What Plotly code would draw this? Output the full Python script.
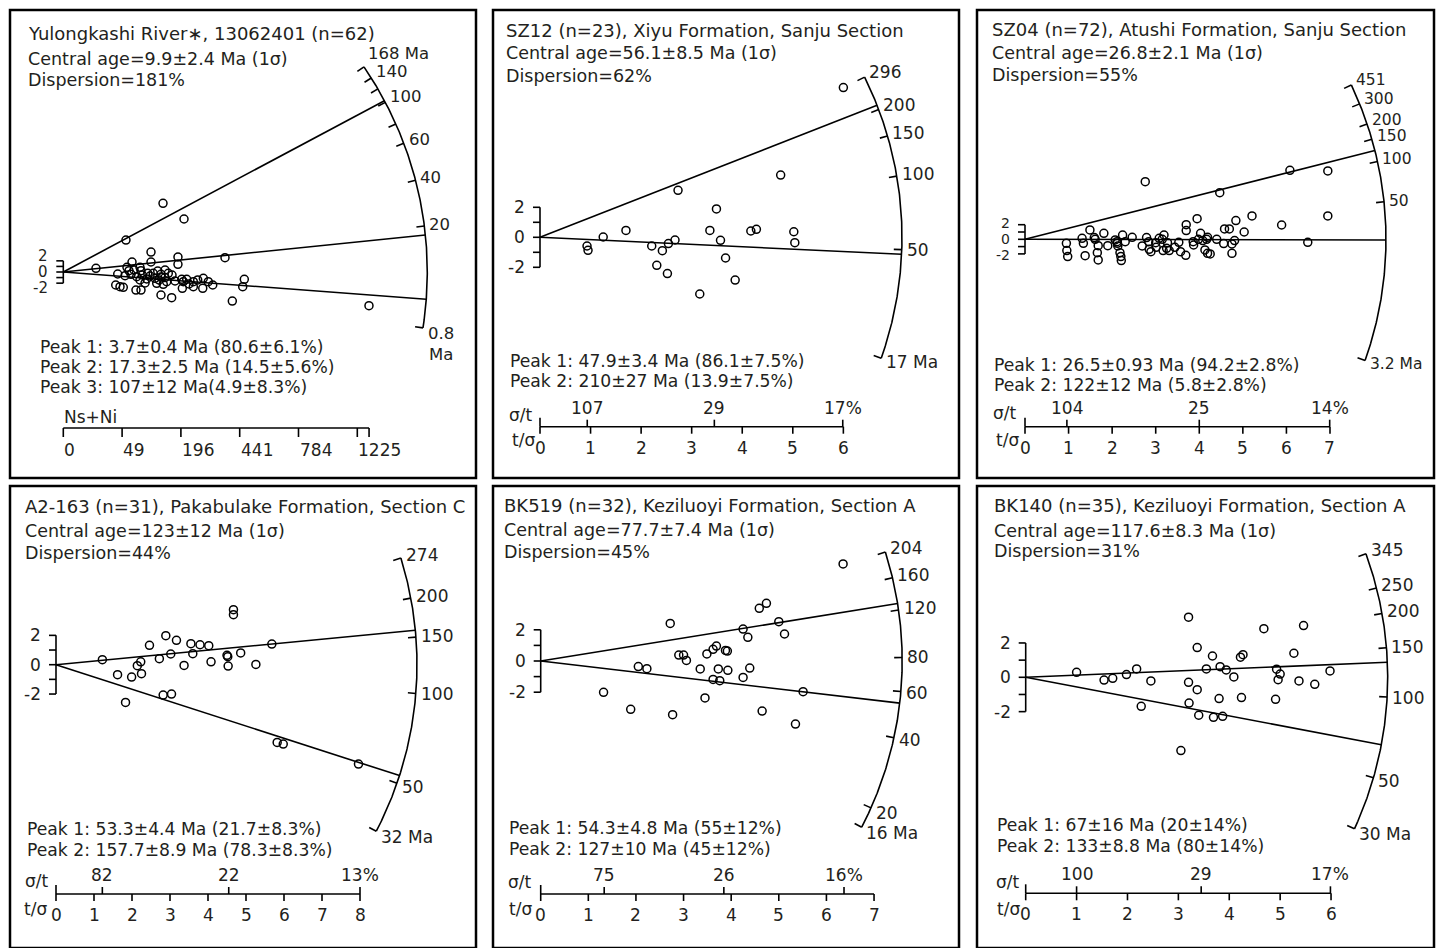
import numpy as np
import plotly.graph_objects as go

W, H = 1436, 948
TXT = "#231f20"
FAM = "DejaVu Sans"
FS = 17

# ------------------------------------------------------------------ data
# Panel 1 (x = sqrt(Ns+Ni), y = standardised estimate)
p1_title = "Yulongkashi River∗, 13062401 (n=62)"
p1_central = "Central age=9.9±2.4 Ma (1σ)"
p1_disp = "Dispersion=181%"
p1_peak_text = ["Peak 1: 3.7±0.4 Ma (80.6±6.1%)", "Peak 2: 17.3±2.5 Ma (14.5±5.6%)",
                "Peak 3: 107±12 Ma(4.9±8.3%)"]
p1_x = [3.89, 7.46, 11.87, 14.37, 10.44, 13.65, 13.65, 19.25, 8.18, 10.44, 7.58, 7.82, 9.13, 9.25,
        6.48, 7.35, 8.06, 8.74, 9.40, 10.05, 10.71, 11.24, 12.11, 11.63, 9.93, 9.13, 10.92, 11.63,
        12.11, 12.50, 11.12, 11.90, 12.31, 14.10, 14.69, 14.29, 14.17, 6.24, 6.75, 7.14, 8.65, 9.25,
        11.63, 12.90, 15.48, 15.48, 16.00, 16.67, 16.60, 17.26, 17.79, 21.55, 21.36, 20.12, 36.39,
        12.94, 11.39, 10.32, 14.96, 8.42, 13.30, 9.73]
p1_y = [0.66, 5.73, 12.31, 9.50, 3.58, 2.69, 1.38, 2.56, 1.79, 1.79, 0.84, 0.23, 0.84, 0.23,
        -0.36, -0.66, -0.41, -0.84, -0.54, -0.23, -0.23, 0.18, 0.36, -0.41, -1.25, -1.43, -1.13, -0.90,
        -0.99, -0.23, -2.03, -2.20, -1.74, -1.31, -1.31, -1.74, -2.92, -2.33, -2.63, -2.74, -3.23, -3.23,
        -4.12, -4.61, -1.74, -2.63, -1.43, -1.13, -2.92, -1.74, -2.33, -1.31, -2.63, -5.20, -6.04,
        -0.54, -1.43, -0.72, -2.15, 0.36, -1.61, -1.97]
p1_arc_labels = ["168 Ma", "140", "", "100", "", "60", "40", "20", "0.8<br>Ma"]
p1_arc_z = [1.027, 0.948, 0.876, 0.793, 0.670, 0.569, 0.392, 0.192, -0.234]
p1_peak_z = [-0.113, 0.154, 0.803]
p1_count_ticks = [0, 49, 196, 441, 784, 1225]
p1_count_max = 1325

# Panel 2
p2_title = "SZ12 (n=23), Xiyu Formation, Sanju Section"
p2_central = "Central age=56.1±8.5 Ma (1σ)"
p2_disp = "Dispersion=62%"
p2_peak_text = ["Peak 1: 47.9±3.4 Ma (86.1±7.5%)", "Peak 2: 210±27 Ma (13.9±7.5%)"]
p2_central_age = 56.1
p2_peak_ages = [47.9, 210]
p2_arc_ages = [296, 200, 150, 100, 50, 17]
p2_arc_labels = ["296", "200", "150", "100", "50", "17 Ma"]
p2_sig = [107, 29, 16.7]
p2_sig_labels = ["107", "29", "17%"]
p2_tmax = 6
p2_x = [6.00, 4.76, 2.73, 3.49, 1.70, 1.25, 0.93, 0.95, 3.36, 3.57, 4.17, 4.28, 5.02, 5.04, 2.67,
        2.54, 2.21, 2.42, 2.31, 2.52, 3.67, 3.86, 3.16]
p2_y = [9.98, 4.15, 3.13, 1.89, 0.46, 0.02, -0.58, -0.87, 0.46, -0.20, 0.42, 0.53, 0.37, -0.36, -0.18,
        -0.42, -0.58, -0.89, -1.87, -2.42, -1.38, -2.85, -3.78]

# Panel 3
p3_title = "SZ04 (n=72), Atushi Formation, Sanju Section"
p3_central = "Central age=26.8±2.1 Ma (1σ)"
p3_disp = "Dispersion=55%"
p3_peak_text = ["Peak 1: 26.5±0.93 Ma (94.2±2.8%)", "Peak 2: 122±12 Ma (5.8±2.8%)"]
p3_central_age = 26.8
p3_peak_ages = [26.5, 122]
p3_arc_ages = [451, 300, 200, 150, 100, 50, 3.2]
p3_arc_labels = ["451", "300", "200", "150", "100", "50", "3.2 Ma"]
p3_sig = [104, 25, 14.3]
p3_sig_labels = ["104", "25", "14%"]
p3_tmax = 7
p3_x = [2.76, 4.47, 6.08, 6.95, 6.95, 5.89, 6.49, 5.21, 4.84, 5.03, 4.58, 4.69, 4.81, 4.75, 4.75,
        4.56, 4.40, 4.19, 3.95, 4.03, 3.98, 4.08, 4.13, 4.19, 4.25, 3.87, 3.70, 3.70, 3.53, 3.57,
        3.69, 3.44, 3.31, 3.27, 3.19, 3.15, 3.08, 3.17, 3.01, 2.89, 2.85, 2.79, 2.84, 2.69, 2.46,
        2.30, 2.24, 2.11, 2.13, 2.18, 2.20, 2.21, 2.07, 1.90, 1.81, 1.68, 1.66, 1.68, 1.59, 1.49,
        1.34, 1.31, 1.38, 0.95, 0.96, 0.98, 1.61, 2.12, 3.00, 3.86, 4.17, 3.25]
p3_y = [7.90, 6.39, 9.45, 9.36, 3.20, 1.96, -0.41, 3.20, 2.56, 1.00, 1.42, 1.42, -0.18, -0.64, -1.92,
        -0.59, 0.00, 0.27, 2.83, 0.82, 0.00, -0.18, -1.46, -1.92, -2.01, -0.78, 2.01, 1.19, -0.41, -1.69,
        -2.19, -1.10, -1.55, -0.46, 0.59, 0.00, 0.14, -1.55, -1.10, -1.69, -1.37, 0.23, -0.32, -0.91, 0.27,
        -0.32, 0.59, -0.32, -0.91, -1.83, -2.37, -2.92, -0.09, -0.87, 0.82, -0.87, -1.83, -2.83, 0.23, 1.28,
        -0.55, 0.14, -2.24, -0.55, -1.55, -2.37, 0.00, -0.55, -0.46, -0.32, 0.00, -1.23]

# Panel 4
p4_title = "A2-163 (n=31), Pakabulake Formation, Section C"
p4_central = "Central age=123±12 Ma (1σ)"
p4_disp = "Dispersion=44%"
p4_peak_text = ["Peak 1: 53.3±4.4 Ma (21.7±8.3%)", "Peak 2: 157.7±8.9 Ma (78.3±8.3%)"]
p4_central_age = 123
p4_peak_ages = [53.3, 157.7]
p4_arc_ages = [274, 200, 150, 100, 50, 32]
p4_arc_labels = ["274", "200", "150", "100", "50", "32 Ma"]
p4_sig = [82, 22, 12.5]
p4_sig_labels = ["82", "22", "13%"]
p4_tmax = 8
p4_x = [1.22, 1.62, 1.99, 1.83, 2.14, 2.23, 2.25, 2.46, 2.72, 2.89, 3.02, 3.17, 2.82, 3.04, 3.37,
        3.55, 3.60, 3.79, 4.02, 4.08, 4.50, 4.52, 4.53, 4.67, 4.67, 4.86, 5.26, 5.68, 5.82, 5.98, 7.96]
p4_y = [0.34, -0.68, -0.84, -2.57, -0.07, 0.20, -0.61, 1.32, 0.41, 1.98, 0.73, 1.66, -2.07, -2.00, -0.05,
        1.43, 0.75, 1.36, 1.30, 0.20, 0.64, 0.55, -0.09, 3.75, 3.41, 0.80, 0.02, 1.41, -5.30, -5.41, -6.77]

# Panel 5
p5_title = "BK519 (n=32), Keziluoyi Formation, Section A"
p5_central = "Central age=77.7±7.4 Ma (1σ)"
p5_disp = "Dispersion=45%"
p5_peak_text = ["Peak 1: 54.3±4.8 Ma (55±12%)", "Peak 2: 127±10 Ma (45±12%)"]
p5_central_age = 77.7
p5_peak_ages = [54.3, 127]
p5_arc_ages = [204, 160, 120, 80, 60, 40, 20, 16]
p5_arc_labels = ["204", "160", "120", "80", "60", "40", "20", "16 Ma"]
p5_sig = [75, 26, 15.7]
p5_sig_labels = ["75", "26", "16%"]
p5_tmax = 7
p5_x = [6.35, 4.59, 4.74, 5.00, 5.12, 4.25, 4.35, 2.72, 3.69, 3.62, 3.49, 3.88, 3.92, 2.90, 3.00,
        3.06, 2.05, 2.23, 3.35, 3.73, 3.93, 4.39, 3.62, 3.76, 4.25, 5.51, 1.32, 3.45, 1.89, 2.77,
        4.65, 5.35]
p5_y = [6.22, 3.38, 3.70, 2.52, 1.73, 2.05, 1.52, 2.41, 0.96, 0.75, 0.45, 0.68, 0.64, 0.38, 0.38,
        0.04, -0.36, -0.49, -0.51, -0.51, -0.60, -0.45, -1.18, -1.26, -1.05, -1.97, -2.01, -2.37, -3.10,
        -3.44, -3.21, -4.04]

# Panel 6
p6_title = "BK140 (n=35), Keziluoyi Formation, Section A"
p6_central = "Central age=117.6±8.3 Ma (1σ)"
p6_disp = "Dispersion=31%"
p6_peak_text = ["Peak 1: 67±16 Ma (20±14%)", "Peak 2: 133±8.8 Ma (80±14%)"]
p6_central_age = 117.6
p6_peak_ages = [67, 133]
p6_arc_ages = [345, 250, 200, 150, 100, 50, 30]
p6_arc_labels = ["345", "250", "200", "150", "100", "50", "30 Ma"]
p6_sig = [100, 29, 16.7]
p6_sig_labels = ["100", "29", "17%"]
p6_tmax = 6
p6_x = [1.00, 1.54, 1.71, 1.98, 2.18, 2.46, 2.27, 3.20, 3.37, 3.20, 3.37, 3.21, 3.40, 3.05, 3.55,
        3.67, 3.82, 3.94, 3.80, 3.69, 3.87, 4.09, 4.22, 4.27, 4.24, 4.68, 4.93, 5.00, 4.96, 4.91,
        5.27, 5.46, 5.37, 5.68, 5.98]
p6_y = [0.29, -0.16, -0.06, 0.16, 0.49, -0.21, -1.69, 3.50, 1.73, -0.29, -0.72, -1.50, -2.21, -4.27,
        0.49, 1.24, 0.62, 0.43, -1.24, -2.33, -2.27, 0.02, 1.17, 1.32, -1.18, 2.83, 0.47, 0.19, -0.14,
        -1.28, 1.40, 3.01, -0.21, -0.41, 0.37]

# ------------------------------------------------------------------ layout geometry (pixels)
geoms = [
    dict(box=(10, 10, 476, 478), origin=(63.3, 272), kx=8.4, ky=5.58, R=364, axis_py=428,
         head=(27.3, 33.3, 59.3, 80), peaks=(39.3, 346.7, 20), spread=5, bar_fs=15, arc_fs=16.5, top_lift=7),
    dict(box=(493, 10, 959, 478), origin=(540, 237.3), kx=50.56, ky=15, R=362, axis_py=426.7,
         head=(505, 30.7, 53.3, 76), peaks=(509.3, 360.7, 20), sig=(508, 415), tsig=(510.5, 440),
         spread=0, bar_fs=17, arc_fs=17, top_lift=0),
    dict(box=(977, 10, 1434, 478), origin=(1025, 239.3), kx=43.57, ky=7.3, R=361, axis_py=426.7,
         head=(991, 30, 52.7, 75), peaks=(993.3, 365, 20), sig=(991.7, 413.3), tsig=(995, 440),
         spread=1.5, bar_fs=14, arc_fs=15.5, top_lift=0),
    dict(box=(10, 486, 476, 948), origin=(56, 664.7), kx=38, ky=14.67, R=361, axis_py=894,
         head=(24, 506, 531, 552.7), peaks=(26, 829.3, 20.7), sig=(24, 880.7), tsig=(23, 909.3),
         spread=0, bar_fs=17, arc_fs=17, top_lift=0),
    dict(box=(493, 486, 959, 948), origin=(540.7, 661), kx=47.62, ky=15.6, R=361.5, axis_py=894,
         head=(503.3, 505.7, 530, 551.7), peaks=(508.3, 828.3, 20.7), sig=(506.7, 881.7), tsig=(508, 909.3),
         spread=0, bar_fs=17, arc_fs=17, top_lift=0),
    dict(box=(977, 486, 1434, 948), origin=(1025.7, 677.3), kx=50.89, ky=17.17, R=362, axis_py=893.3,
         head=(993.3, 505.7, 531, 551), peaks=(996, 825, 20.7), sig=(995, 881.7), tsig=(996.5, 909.3),
         spread=0, bar_fs=17, arc_fs=17, top_lift=0),
]

SIZE_TITLE, SIZE_HEAD, SIZE_PEAK = 18, 17.5, 17.2
LW = 1.6


def log_panel(title, central, disp, peak_text, c_age, peak_ages, arc_ages, arc_labels, sig, sig_labels, tmax, x, y):
    return dict(kind="log", title=title, central=central, disp=disp, peak_text=peak_text,
                arc_z=[float(np.log(a / c_age)) for a in arc_ages], arc_labels=arc_labels,
                peak_z=[float(np.log(a / c_age)) for a in peak_ages],
                sig=sig, sig_labels=sig_labels, tmax=tmax, x=x, y=y)


panels = [
    dict(kind="counts", title=p1_title, central=p1_central, disp=p1_disp, peak_text=p1_peak_text,
         arc_z=p1_arc_z, arc_labels=p1_arc_labels, peak_z=p1_peak_z, x=p1_x, y=p1_y),
    log_panel(p2_title, p2_central, p2_disp, p2_peak_text, p2_central_age, p2_peak_ages, p2_arc_ages,
              p2_arc_labels, p2_sig, p2_sig_labels, p2_tmax, p2_x, p2_y),
    log_panel(p3_title, p3_central, p3_disp, p3_peak_text, p3_central_age, p3_peak_ages, p3_arc_ages,
              p3_arc_labels, p3_sig, p3_sig_labels, p3_tmax, p3_x, p3_y),
    log_panel(p4_title, p4_central, p4_disp, p4_peak_text, p4_central_age, p4_peak_ages, p4_arc_ages,
              p4_arc_labels, p4_sig, p4_sig_labels, p4_tmax, p4_x, p4_y),
    log_panel(p5_title, p5_central, p5_disp, p5_peak_text, p5_central_age, p5_peak_ages, p5_arc_ages,
              p5_arc_labels, p5_sig, p5_sig_labels, p5_tmax, p5_x, p5_y),
    log_panel(p6_title, p6_central, p6_disp, p6_peak_text, p6_central_age, p6_peak_ages, p6_arc_ages,
              p6_arc_labels, p6_sig, p6_sig_labels, p6_tmax, p6_x, p6_y),
]

# ------------------------------------------------------------------ build
fig = go.Figure()
annotations = []
shapes = []


def A(text, x, y, xref, yref, xanchor="left", yanchor="middle", xshift=0, yshift=0, size=FS):
    annotations.append(dict(text=text, x=x, y=y, xref=xref, yref=yref, xanchor=xanchor, yanchor=yanchor,
                            xshift=xshift, yshift=yshift, showarrow=False, borderpad=0,
                            font=dict(family=FAM, size=size, color=TXT)))


for i, (P, G) in enumerate(zip(panels, geoms), start=1):
    sfx = "" if i == 1 else str(i)
    xr, yr = "x" + sfx, "y" + sfx
    l, t, r, b = G["box"]
    ox, oy = G["origin"]
    kx, ky, R = G["kx"], G["ky"], G["R"]
    fig.update_layout(**{
        "xaxis" + sfx: dict(domain=[l / W, r / W], range=[(l - ox) / kx, (r - ox) / kx], visible=False,
                            fixedrange=True, anchor=yr),
        "yaxis" + sfx: dict(domain=[1 - b / H, 1 - t / H], range=[(oy - b) / ky, (oy - t) / ky], visible=False,
                            fixedrange=True, anchor=xr),
    })
    shapes.append(dict(type="rect", xref="paper", yref="paper", x0=l / W, x1=r / W, y0=1 - b / H, y1=1 - t / H,
                       line=dict(color="black", width=2.5)))

    def theta(z):
        return np.arctan(np.asarray(z) * ky / kx)

    def polar(th, rad):
        return rad * np.cos(th) / kx, rad * np.sin(th) / ky

    lx, ly = [], []

    def seg(x0, y0, x1, y1):
        lx.extend([x0, x1, None])
        ly.extend([y0, y1, None])

    # arc
    ztop = max(P["arc_z"])
    tt = np.linspace(theta(ztop), theta(min(P["arc_z"])), 240)
    axx, ayy = polar(tt, R)
    lx.extend(list(axx) + [None])
    ly.extend(list(ayy) + [None])
    for z, lab in zip(P["arc_z"], P["arc_labels"]):
        a = float(theta(z))
        x0, y0 = polar(a, R)
        x1, y1 = polar(a, R - 8)
        seg(x0, y0, x1, y1)
        if lab:
            xl, yl = polar(a, R + 4)
            if "<br>" in lab:
                A(lab, xl, yl, xr, yr, "left", "top", yshift=6, size=G["arc_fs"])
            else:
                lift = G["top_lift"] if z == ztop else 0
                A(lab, xl, yl, xr, yr, "left", "middle", yshift=8 * np.sin(a) + lift, size=G["arc_fs"])
    # peak lines
    for z in P["peak_z"]:
        x1, y1 = polar(float(theta(z)), R)
        seg(0, 0, x1, y1)
    # +/-2 bar
    seg(0, -2, 0, 2)
    for v in [-2, -1, 0, 1, 2]:
        seg(-7 / kx, v, 0, v)
    for v in [-2, 0, 2]:
        A(str(v), 0, v, xr, yr, "right", "middle", xshift=-14, yshift=G["spread"] * np.sign(v),
          size=G["bar_fs"])

    # precision axis
    y_ax = (oy - G["axis_py"]) / ky
    if P["kind"] == "counts":
        nmax = np.sqrt(p1_count_max)
        seg(0, y_ax, nmax, y_ax)
        for v in p1_count_ticks:
            seg(np.sqrt(v), y_ax, np.sqrt(v), y_ax - 9 / ky)
            A(str(v), np.sqrt(v), y_ax, xr, yr, "left", "middle", yshift=-22)
        seg(nmax, y_ax, nmax, y_ax - 9 / ky)
        A("Ns+Ni", 0, y_ax, xr, yr, "left", "middle", yshift=11)
    else:
        tmax = P["tmax"]
        seg(0, y_ax, tmax, y_ax)
        seg(0, y_ax, 0, y_ax + 9 / ky)
        for k in range(tmax + 1):
            seg(k, y_ax, k, y_ax - 7 / ky)
            A(str(k), k, y_ax, xr, yr, "center", "middle", yshift=-21)
        for v, lab in zip(P["sig"], P["sig_labels"]):
            xs = 100.0 / v
            seg(xs, y_ax, xs, y_ax + 7 / ky)
            A(lab, xs, y_ax, xr, yr, "center", "middle", yshift=19)
        A("σ/t", G["sig"][0] / W, 1 - G["sig"][1] / H, "paper", "paper")
        A("t/σ", G["tsig"][0] / W, 1 - G["tsig"][1] / H, "paper", "paper")

    fig.add_trace(go.Scatter(x=lx, y=ly, mode="lines", line=dict(color="black", width=LW),
                             xaxis=xr, yaxis=yr, hoverinfo="skip", showlegend=False, cliponaxis=False))
    fig.add_trace(go.Scatter(x=P["x"], y=P["y"], mode="markers",
                             marker=dict(symbol="circle-open", size=8, color="black", line=dict(width=1.5)),
                             xaxis=xr, yaxis=yr, showlegend=False, cliponaxis=False))

    # header text
    hx, hy1, hy2, hy3 = G["head"]
    for txt, py, sz in zip([P["title"], P["central"], P["disp"]], [hy1, hy2, hy3],
                           [SIZE_TITLE, SIZE_HEAD, SIZE_HEAD]):
        A(txt, hx / W, 1 - py / H, "paper", "paper", size=sz)
    px0, py0, dy = G["peaks"]
    for k, txt in enumerate(P["peak_text"]):
        A(txt, px0 / W, 1 - (py0 + k * dy) / H, "paper", "paper", size=SIZE_PEAK)

fig.update_layout(width=W, height=H, margin=dict(l=0, r=0, t=0, b=0), paper_bgcolor="white",
                  plot_bgcolor="white", showlegend=False, annotations=annotations, shapes=shapes)
fig.write_html("out.html", config={"displayModeBar": False},
               post_script="document.body.style.margin='0px';document.body.style.overflow='hidden';")
